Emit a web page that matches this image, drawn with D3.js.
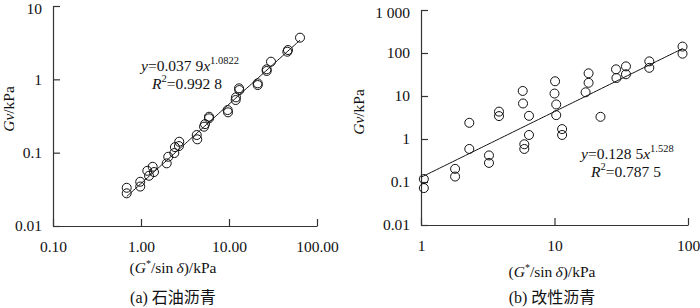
<!DOCTYPE html>
<html><head><meta charset="utf-8">
<script src="https://cdn.jsdelivr.net/npm/d3@7"></script>
<style>
body{margin:0;background:#fff;}
svg{display:block;}
svg text{font-family:"Times New Roman","Liberation Serif","DejaVu Serif",serif !important;}
svg text.cn{font-family:"Times New Roman","Liberation Serif","Noto Sans CJK SC",serif !important;}
</style></head>
<body><svg id="c" width="700" height="308"></svg>
<script>
// (a) petroleum asphalt: G*/sin d (kPa) vs Gv (kPa)
const aX = [0.688,0.688,0.98,0.98,1.18,1.233,1.358,1.405,1.96,2.04,2.39,2.43,2.70,2.72,4.30,4.36,5.20,5.34,5.93,5.93,9.66,9.75,11.9,12.0,13.1,13.0,21.2,21.2,26.8,26.8,30.0,46.0,46.8,64.1];
const aY = [0.0332,0.0279,0.0401,0.0345,0.0566,0.0484,0.0642,0.0544,0.0715,0.0879,0.0988,0.119,0.123,0.141,0.174,0.152,0.226,0.245,0.294,0.309,0.381,0.355,0.522,0.568,0.714,0.754,0.882,0.836,1.30,1.37,1.74,2.38,2.51,3.70];
const aFit = {a:0.0379, b:1.0822, x0:0.69, x1:64};
const aXTicks = [0.1,1,10,100];
const aXLabels = ["0.10","1.00","10.00","100.00"];
const aYTicks = [0.01,0.1,1,10];
const aYLabels = ["0.01","0.1","1","10"];

// (b) modified asphalt
const bX = [1.05,1.05,1.80,1.80,2.30,2.30,3.23,3.23,3.84,3.84,5.78,5.81,6.44,6.44,5.94,5.94,10.1,10.0,10.3,10.3,11.4,11.4,17.1,18.0,18.0,22.1,28.9,29.1,34.3,34.3,51.3,51.3,91.0,91.0];
const bY = [0.117,0.0722,0.202,0.134,2.38,0.587,0.415,0.278,4.33,3.41,13.1,6.70,3.46,1.24,0.754,0.587,22.0,11.4,6.36,3.59,1.70,1.24,12.2,33.7,20.3,3.28,41.7,26.2,48.9,32.0,63.9,45.2,141,96.4];
const bFit = {a:0.1285, b:1.528, x0:1, x1:91};
const bXTicks = [1,10,100];
const bXLabels = ["1","10","100"];
const bYTicks = [0.01,0.1,1,10,100,1000];
const bYLabels = ["0.01","0.1","1","10","100","1 000"];

const svg = d3.select("#c");
const FS = 15.5;

function panel(o){
  const x = d3.scaleLog().domain(o.xd).range(o.xr);
  const y = d3.scaleLog().domain(o.yd).range(o.yr);
  const g = svg.append("g");
  const xa = d3.axisBottom(x).tickValues(o.xt).tickFormat((d,i)=>o.xl[i]).tickSize(-7).tickSizeOuter(0).tickPadding(15);
  const ya = d3.axisLeft(y).tickValues(o.yt).tickFormat((d,i)=>o.yl[i]).tickSize(-7).tickSizeOuter(0).tickPadding(11);
  const gx = g.append("g").attr("transform",`translate(0,${o.yr[0]})`).call(xa);
  const gy = g.append("g").attr("transform",`translate(${o.xr[0]},0)`).call(ya);
  [gx,gy].forEach(a=>{
    a.attr("font-family",null).attr("font-size",null);
    a.selectAll("text").attr("font-size",FS).attr("fill","#111");
    a.selectAll("line,path").attr("stroke","#333").attr("stroke-width",1.2);
  });
  gy.selectAll("text").filter((d,i)=>i===o.yt.length-1).attr("dy","0.5em");
  // fit line
  const xs = d3.range(0,101).map(i=>o.fit.x0*Math.pow(o.fit.x1/o.fit.x0,i/100));
  g.append("path").datum(xs)
    .attr("d",d3.line().x(d=>x(d)).y(d=>y(o.fit.a*Math.pow(d,o.fit.b))))
    .attr("fill","none").attr("stroke","#111").attr("stroke-width",1);
  g.selectAll("circle.p").data(o.px).join("circle")
    .attr("cx",d=>x(d)).attr("cy",(d,i)=>y(o.py[i])).attr("r",4.5)
    .attr("fill","none").attr("stroke","#111").attr("stroke-width",1);
  // axis titles
  const tx = g.append("text").attr("x",o.tx).attr("y",o.ty).attr("text-anchor","middle").attr("font-size",FS).attr("fill","#111");
  tx.append("tspan").text("(");
  tx.append("tspan").attr("font-style","italic").text("G");
  tx.append("tspan").attr("font-size",10).attr("dy",-6).text("*");
  tx.append("tspan").attr("dy",6).text("/sin\u2009");
  tx.append("tspan").attr("font-style","italic").text("\u03B4");
  tx.append("tspan").text(")/kPa");
  g.append("text").attr("class","cn").attr("x",o.tx).attr("y",o.cy).attr("text-anchor","middle").attr("font-size",16).attr("fill","#111").text(o.cap);
  const yl = g.append("text").attr("transform",`translate(${o.yx},${o.yy}) rotate(-90)`).attr("text-anchor","middle").attr("font-size",FS).attr("fill","#111");
  yl.append("tspan").attr("font-style","italic").text("Gv");
  yl.append("tspan").text("/kPa");
  // equation
  const e1 = g.append("text").attr("x",o.ex).attr("y",o.ey).attr("font-size",FS).attr("fill","#111");
  e1.append("tspan").attr("font-style","italic").text("y");
  e1.append("tspan").text("=" + o.ea);
  e1.append("tspan").attr("font-style","italic").text("x");
  e1.append("tspan").attr("font-size",10.5).attr("dy",-7).text(o.eb);
  const e2 = g.append("text").attr("x",o.rx).attr("y",o.ey+18).attr("font-size",FS).attr("fill","#111");
  e2.append("tspan").attr("font-style","italic").text("R");
  e2.append("tspan").attr("font-size",10.5).attr("dy",-7).text("2");
  e2.append("tspan").attr("dy",7).text("=" + o.r2);
}

panel({xd:[0.1,100],xr:[53,317],yd:[0.01,10],yr:[226,6],xt:aXTicks,xl:aXLabels,yt:aYTicks,yl:aYLabels,
  px:aX,py:aY,fit:aFit,tx:173,ty:273,cy:303,cap:"(a) 石油沥青",yx:14,yy:109,
  ex:141,ey:71,ea:"0.037 9",eb:"1.0822",rx:152,r2:"0.992 8"});
panel({xd:[1,100],xr:[421,688],yd:[0.01,1000],yr:[225,10],xt:bXTicks,xl:bXLabels,yt:bYTicks,yl:bYLabels,
  px:bX,py:bY,fit:bFit,tx:552,ty:277,cy:303,cap:"(b) 改性沥青",yx:364,yy:112,
  ex:581,ey:159,ea:"0.128 5",eb:"1.528",rx:591,r2:"0.787 5"});
</script></body></html>
